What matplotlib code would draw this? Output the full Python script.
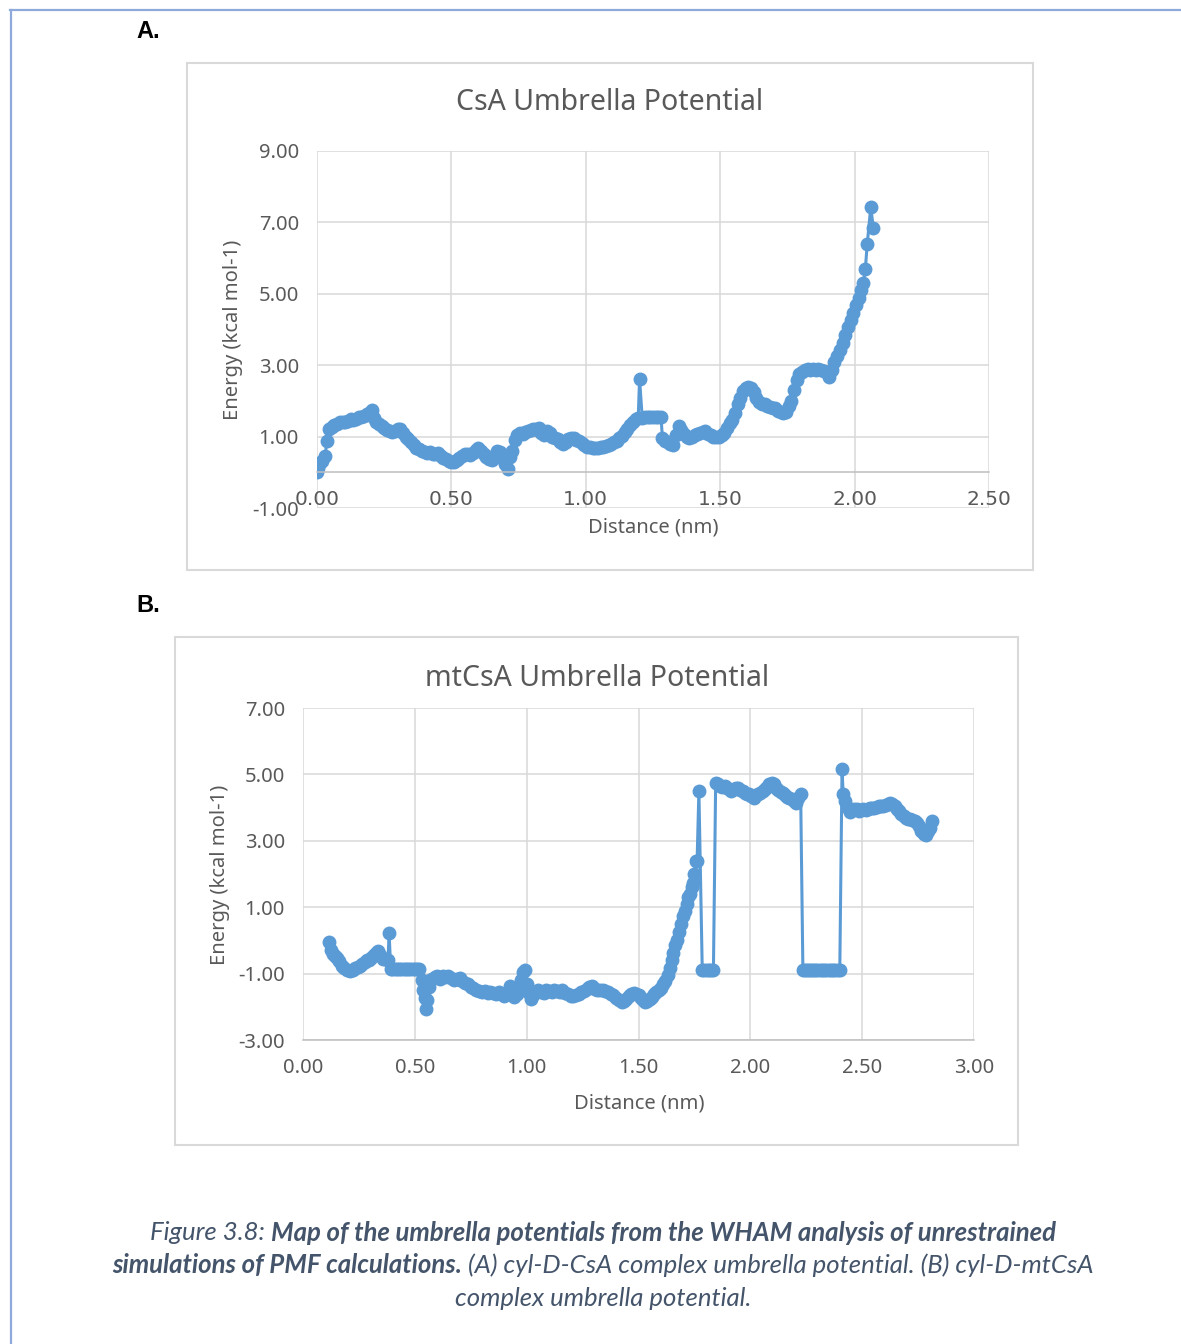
import matplotlib
matplotlib.use("Agg")
import matplotlib.pyplot as plt
from matplotlib.patches import Rectangle
from matplotlib.lines import Line2D

# ---- CsA umbrella potential ----
dist_csa = [0.000, 0.005, 0.010, 0.020, 0.030, 0.037, 0.045, 0.055, 0.065, 0.075,
            0.085, 0.095, 0.105, 0.115, 0.125, 0.135, 0.145, 0.155, 0.165, 0.175,
            0.185, 0.195, 0.205, 0.212, 0.220, 0.230, 0.240, 0.250, 0.260, 0.270,
            0.280, 0.290, 0.300, 0.310, 0.320, 0.330, 0.340, 0.350, 0.360, 0.370,
            0.380, 0.390, 0.400, 0.410, 0.420, 0.430, 0.440, 0.450, 0.460, 0.470,
            0.480, 0.490, 0.500, 0.510, 0.520, 0.530, 0.540, 0.550, 0.560, 0.570,
            0.580, 0.590, 0.600, 0.610, 0.620, 0.630, 0.640, 0.650, 0.660, 0.670,
            0.680, 0.690, 0.700, 0.710, 0.718, 0.725, 0.735, 0.745, 0.755, 0.765,
            0.775, 0.785, 0.795, 0.805, 0.815, 0.825, 0.835, 0.845, 0.855, 0.865,
            0.875, 0.885, 0.895, 0.905, 0.915, 0.925, 0.935, 0.945, 0.955, 0.965,
            0.975, 0.985, 0.995, 1.005, 1.015, 1.025, 1.035, 1.045, 1.055, 1.065,
            1.075, 1.085, 1.095, 1.105, 1.115, 1.125, 1.135, 1.145, 1.155, 1.165,
            1.175, 1.185, 1.195, 1.200, 1.210, 1.220, 1.230, 1.240, 1.250, 1.260,
            1.270, 1.280, 1.285, 1.295, 1.305, 1.315, 1.325, 1.335, 1.347, 1.355,
            1.365, 1.375, 1.385, 1.395, 1.405, 1.415, 1.425, 1.435, 1.445, 1.455,
            1.465, 1.475, 1.485, 1.495, 1.505, 1.515, 1.525, 1.535, 1.545, 1.555,
            1.565, 1.575, 1.585, 1.595, 1.605, 1.615, 1.625, 1.635, 1.645, 1.655,
            1.665, 1.675, 1.685, 1.695, 1.705, 1.715, 1.725, 1.735, 1.745, 1.755,
            1.765, 1.775, 1.785, 1.795, 1.805, 1.815, 1.825, 1.835, 1.845, 1.855,
            1.865, 1.875, 1.885, 1.895, 1.905, 1.915, 1.925, 1.935, 1.945, 1.955,
            1.965, 1.975, 1.985, 1.995, 2.005, 2.015, 2.025, 2.033, 2.040, 2.047,
            2.060, 2.070]
energy_csa = [0.02, 0.12, 0.25, 0.32, 0.45, 0.88, 1.22, 1.28, 1.32, 1.36,
              1.40, 1.42, 1.40, 1.45, 1.48, 1.46, 1.50, 1.56, 1.55, 1.58,
              1.62, 1.66, 1.74, 1.52, 1.42, 1.35, 1.30, 1.24, 1.18, 1.15,
              1.12, 1.16, 1.22, 1.20, 1.10, 1.00, 0.92, 0.85, 0.76, 0.68,
              0.64, 0.60, 0.56, 0.54, 0.56, 0.52, 0.50, 0.53, 0.45, 0.40,
              0.36, 0.32, 0.28, 0.30, 0.34, 0.40, 0.46, 0.50, 0.52, 0.48,
              0.55, 0.62, 0.67, 0.60, 0.50, 0.42, 0.36, 0.34, 0.45, 0.60,
              0.58, 0.40, 0.22, 0.10, 0.42, 0.60, 0.90, 1.05, 1.10, 1.08,
              1.12, 1.15, 1.18, 1.22, 1.20, 1.23, 1.10, 1.04, 1.16, 1.10,
              1.00, 0.95, 0.92, 0.86, 0.80, 0.84, 0.92, 0.96, 0.95, 0.90,
              0.88, 0.82, 0.76, 0.72, 0.70, 0.68, 0.67, 0.69, 0.70, 0.72,
              0.74, 0.76, 0.80, 0.84, 0.88, 0.95, 1.02, 1.12, 1.22, 1.32,
              1.40, 1.48, 1.52, 2.62, 1.52, 1.55, 1.55, 1.55, 1.55, 1.55,
              1.55, 1.54, 0.95, 0.88, 0.84, 0.80, 0.76, 1.05, 1.30, 1.18,
              1.08, 1.00, 0.96, 0.98, 1.04, 1.08, 1.10, 1.12, 1.15, 1.08,
              1.04, 1.00, 0.98, 1.00, 1.04, 1.10, 1.23, 1.38, 1.46, 1.65,
              1.90, 2.07, 2.28, 2.35, 2.38, 2.35, 2.25, 2.07, 1.98, 1.92,
              1.90, 1.86, 1.82, 1.80, 1.79, 1.72, 1.68, 1.65, 1.70, 1.85,
              2.00, 2.30, 2.58, 2.75, 2.82, 2.86, 2.88, 2.86, 2.88, 2.86,
              2.88, 2.86, 2.84, 2.82, 2.66, 2.86, 3.08, 3.25, 3.42, 3.62,
              3.84, 4.06, 4.26, 4.45, 4.68, 4.87, 5.10, 5.30, 5.70, 6.40,
              7.42, 6.84]

# ---- mtCsA umbrella potential ----
dist_mtcsa = [0.116, 0.125, 0.134, 0.143, 0.152, 0.163, 0.174, 0.185, 0.196, 0.210,
              0.222, 0.234, 0.245, 0.255, 0.266, 0.276, 0.286, 0.296, 0.306, 0.314,
              0.322, 0.330, 0.335, 0.345, 0.358, 0.368, 0.380, 0.385, 0.392, 0.400,
              0.410, 0.420, 0.430, 0.440, 0.450, 0.460, 0.470, 0.480, 0.490, 0.500,
              0.510, 0.520, 0.530, 0.537, 0.545, 0.550, 0.555, 0.562, 0.570, 0.578,
              0.590, 0.600, 0.612, 0.625, 0.637, 0.650, 0.662, 0.675, 0.687, 0.700,
              0.712, 0.725, 0.737, 0.750, 0.762, 0.775, 0.787, 0.800, 0.812, 0.825,
              0.837, 0.850, 0.862, 0.875, 0.887, 0.900, 0.912, 0.925, 0.935, 0.945,
              0.955, 0.965, 0.975, 0.985, 0.992, 1.000, 1.008, 1.018, 1.030, 1.040,
              1.052, 1.064, 1.076, 1.088, 1.100, 1.112, 1.124, 1.136, 1.148, 1.160,
              1.172, 1.184, 1.196, 1.208, 1.220, 1.232, 1.244, 1.256, 1.268, 1.280,
              1.292, 1.304, 1.316, 1.328, 1.340, 1.352, 1.364, 1.376, 1.388, 1.400,
              1.412, 1.424, 1.434, 1.445, 1.456, 1.467, 1.478, 1.489, 1.500, 1.510,
              1.520, 1.530, 1.540, 1.550, 1.560, 1.570, 1.580, 1.590, 1.600, 1.610,
              1.620, 1.630, 1.640, 1.648, 1.655, 1.663, 1.672, 1.680, 1.690, 1.700,
              1.708, 1.715, 1.722, 1.730, 1.738, 1.745, 1.750, 1.755, 1.762, 1.770,
              1.785, 1.795, 1.805, 1.815, 1.825, 1.835, 1.845, 1.855, 1.865, 1.875,
              1.885, 1.895, 1.905, 1.915, 1.925, 1.935, 1.945, 1.955, 1.965, 1.975,
              1.985, 1.995, 2.005, 2.015, 2.025, 2.035, 2.045, 2.055, 2.065, 2.075,
              2.085, 2.095, 2.105, 2.115, 2.125, 2.135, 2.145, 2.155, 2.165, 2.175,
              2.185, 2.195, 2.205, 2.215, 2.225, 2.235, 2.245, 2.255, 2.262, 2.270,
              2.280, 2.290, 2.300, 2.310, 2.320, 2.330, 2.340, 2.350, 2.360, 2.370,
              2.380, 2.390, 2.400, 2.410, 2.415, 2.425, 2.435, 2.445, 2.455, 2.465,
              2.475, 2.485, 2.495, 2.505, 2.515, 2.525, 2.535, 2.545, 2.555, 2.565,
              2.575, 2.585, 2.595, 2.605, 2.615, 2.625, 2.635, 2.645, 2.655, 2.665,
              2.675, 2.685, 2.695, 2.705, 2.715, 2.725, 2.735, 2.745, 2.755, 2.765,
              2.775, 2.785, 2.795, 2.803, 2.810]
energy_mtcsa = [-0.04, -0.30, -0.40, -0.46, -0.52, -0.62, -0.76, -0.84, -0.88, -0.91,
                -0.88, -0.84, -0.80, -0.76, -0.72, -0.66, -0.60, -0.58, -0.52, -0.46,
                -0.40, -0.35, -0.31, -0.45, -0.55, -0.55, -0.60, 0.22, -0.85, -0.85,
                -0.85, -0.85, -0.85, -0.85, -0.85, -0.85, -0.85, -0.85, -0.85, -0.85,
                -0.85, -0.85, -1.20, -1.50, -1.72, -2.08, -1.80, -1.40, -1.20, -1.15,
                -1.10, -1.06, -1.15, -1.08, -1.10, -1.06, -1.12, -1.18, -1.15, -1.12,
                -1.22, -1.27, -1.32, -1.40, -1.42, -1.50, -1.52, -1.55, -1.52, -1.57,
                -1.55, -1.57, -1.60, -1.56, -1.62, -1.66, -1.58, -1.36, -1.50, -1.70,
                -1.60, -1.40, -1.20, -0.95, -0.90, -1.30, -1.55, -1.75, -1.65, -1.55,
                -1.50, -1.56, -1.58, -1.50, -1.52, -1.55, -1.50, -1.52, -1.55, -1.50,
                -1.57, -1.62, -1.66, -1.68, -1.64, -1.60, -1.56, -1.52, -1.45, -1.40,
                -1.36, -1.45, -1.50, -1.48, -1.50, -1.52, -1.55, -1.60, -1.65, -1.72,
                -1.80, -1.87, -1.82, -1.75, -1.68, -1.62, -1.57, -1.60, -1.65, -1.72,
                -1.80, -1.87, -1.82, -1.78, -1.70, -1.62, -1.55, -1.50, -1.42, -1.32,
                -1.21, -1.05, -0.82, -0.60, -0.37, -0.15, 0.02, 0.25, 0.50, 0.72,
                0.90, 1.10, 1.30, 1.41, 1.60, 1.74, 2.00, 2.40, 2.40, 4.50,
                -0.88, -0.88, -0.88, -0.88, -0.88, -0.88, 4.75, 4.70, 4.66, 4.62,
                4.66, 4.60, 4.55, 4.50, 4.56, 4.60, 4.58, 4.52, 4.50, 4.45,
                4.40, 4.42, 4.35, 4.30, 4.38, 4.42, 4.45, 4.50, 4.55, 4.62,
                4.70, 4.75, 4.70, 4.60, 4.52, 4.48, 4.45, 4.38, 4.32, 4.30,
                4.25, 4.20, 4.15, 4.30, 4.42, -0.88, -0.88, -0.88, -0.88, -0.88,
                -0.88, -0.88, -0.88, -0.88, -0.88, -0.88, -0.88, -0.88, -0.88, -0.88,
                -0.88, -0.88, -0.88, 5.17, 4.42, 4.21, 4.00, 3.88, 3.92, 3.97,
                3.95, 3.90, 3.92, 3.95, 3.94, 3.97, 4.00, 3.98, 4.00, 4.03,
                4.05, 4.06, 4.05, 4.08, 4.12, 4.15, 4.12, 4.05, 3.97, 3.90,
                3.80, 3.75, 3.70, 3.67, 3.66, 3.62, 3.60, 3.55, 3.45, 3.31,
                3.20, 3.16, 3.31, 3.40, 3.60]

line_col = '#5b9bd5'
grid_col = '#d9d9d9'
tick_col = '#595959'
cap_col = '#44546a'
chart_font = 'Noto Sans'
cap_font = 'Lato'

W, H = 1181, 1344
fig = plt.figure(figsize=(W / 100, H / 100), dpi=100)


def px_box(x0, y0, x1, y1):
    # pixel box (top-left origin) -> figure fraction rect
    return [x0 / W, 1 - y1 / H, (x1 - x0) / W, (y1 - y0) / H]


# frame around the figure page
fig.add_artist(Line2D([10 / W, 1], [1 - 10 / H, 1 - 10 / H], color='#8eaadb', lw=1.6))
fig.add_artist(Line2D([11 / W, 11 / W], [0, 1 - 10 / H], color='#8eaadb', lw=1.6))

# chart area borders
for (x0, y0, x1, y1) in [(187, 63, 1033, 570), (175, 637, 1018, 1145)]:
    r = px_box(x0, y0, x1, y1)
    fig.add_artist(Rectangle((r[0], r[1]), r[2], r[3], transform=fig.transFigure,
                             fill=False, ec=grid_col, lw=1.5))


def style_axes(ax, xmax, ymin, ymax):
    ax.set_xlim(0, xmax)
    ax.set_ylim(ymin, ymax)
    ax.grid(True, color=grid_col, lw=1.1)
    ax.set_axisbelow(True)
    for s in ['top', 'right', 'left']:
        ax.spines[s].set_visible(False)
    ax.spines['bottom'].set_color('#bfbfbf')
    ax.spines['bottom'].set_linewidth(1.1)
    ax.tick_params(length=0, labelsize=14.5, colors=tick_col)
    for lab in ax.get_xticklabels() + ax.get_yticklabels():
        lab.set_family(chart_font)


# A. CsA
axA = fig.add_axes(px_box(317, 151, 989, 508))
axA.plot(dist_csa, energy_csa, '-o', color=line_col, lw=2.2, ms=9, mec=line_col)
axA.set_xticks([0, 0.5, 1.0, 1.5, 2.0, 2.5])
axA.set_yticks([-1, 1, 3, 5, 7, 9])
axA.set_xticklabels([f'{v:.2f}' for v in [0, 0.5, 1.0, 1.5, 2.0, 2.5]])
axA.set_yticklabels([f'{v:.2f}' for v in [-1, 1, 3, 5, 7, 9]])
style_axes(axA, 2.5, -1, 9)
axA.spines['bottom'].set_position(('data', 0))
axA.tick_params(axis='x', pad=13)
axA.tick_params(axis='y', pad=13)

fig.text(610 / W, 1 - 103 / H, 'CsA Umbrella Potential', family=chart_font, fontsize=20.5,
         color=tick_col, ha='center', va='center')
fig.text(233 / W, 1 - 330 / H, 'Energy (kcal mol-1)', family=chart_font, fontsize=14.5,
         color=tick_col, ha='center', va='center', rotation=90)
fig.text(653 / W, 1 - 528 / H, 'Distance (nm)', family=chart_font, fontsize=14.5,
         color=tick_col, ha='center', va='center')

# B. mtCsA
axB = fig.add_axes(px_box(303, 708, 974, 1040))
axB.plot(dist_mtcsa, energy_mtcsa, '-o', color=line_col, lw=2.2, ms=9, mec=line_col)
axB.set_xticks([0, 0.5, 1.0, 1.5, 2.0, 2.5, 3.0])
axB.set_yticks([-3, -1, 1, 3, 5, 7])
axB.set_xticklabels([f'{v:.2f}' for v in [0, 0.5, 1.0, 1.5, 2.0, 2.5, 3.0]])
axB.set_yticklabels([f'{v:.2f}' for v in [-3, -1, 1, 3, 5, 7]])
style_axes(axB, 3.0, -3, 7)
axB.tick_params(axis='x', pad=13)
axB.tick_params(axis='y', pad=13)

fig.text(597 / W, 1 - 678 / H, 'mtCsA Umbrella Potential', family=chart_font, fontsize=20.5,
         color=tick_col, ha='center', va='center')
fig.text(220 / W, 1 - 875 / H, 'Energy (kcal mol-1)', family=chart_font, fontsize=14.5,
         color=tick_col, ha='center', va='center', rotation=90)
fig.text(639 / W, 1 - 1103 / H, 'Distance (nm)', family=chart_font, fontsize=14.5,
         color=tick_col, ha='center', va='center')

# panel letters
fig.text(148 / W, 1 - 32 / H, 'A.', family='Liberation Sans', weight='bold', fontsize=17,
         ha='center', va='center')
fig.text(148 / W, 1 - 605 / H, 'B.', family='Liberation Sans', weight='bold', fontsize=17,
         ha='center', va='center')

# caption, mixed bold / regular italic pieces centred per line
caption = [
    (1233, [('Figure 3.8: ', 'normal'),
            ('Map of the umbrella potentials from the WHAM analysis of unrestrained', 'bold')]),
    (1265, [('simulations of PMF calculations.', 'bold'),
            (' (A) cyl-D-CsA complex umbrella potential. (B) cyl-D-mtCsA', 'normal')]),
    (1298, [('complex umbrella potential.', 'normal')]),
]
renderer = fig.canvas.get_renderer()

# size the caption so the second line spans its measured width
probe = [fig.text(0, 0, s, family=cap_font, style='italic', weight=w, fontsize=15)
         for s, w in caption[1][1]]
probe_w = sum(t.get_window_extent(renderer).width for t in probe)
for t in probe:
    t.remove()
cap_size = 15 * 986 / probe_w

for y, pieces in caption:
    texts = [fig.text(0, 1 - y / H, s, family=cap_font, style='italic', weight=w,
                      fontsize=cap_size, color=cap_col, ha='left', va='center')
             for s, w in pieces]
    widths = [t.get_window_extent(renderer).width for t in texts]
    x = 603 - sum(widths) / 2
    for t, w in zip(texts, widths):
        t.set_x(x / W)
        x += w

fig.savefig('out.png', dpi=100, facecolor='white')
